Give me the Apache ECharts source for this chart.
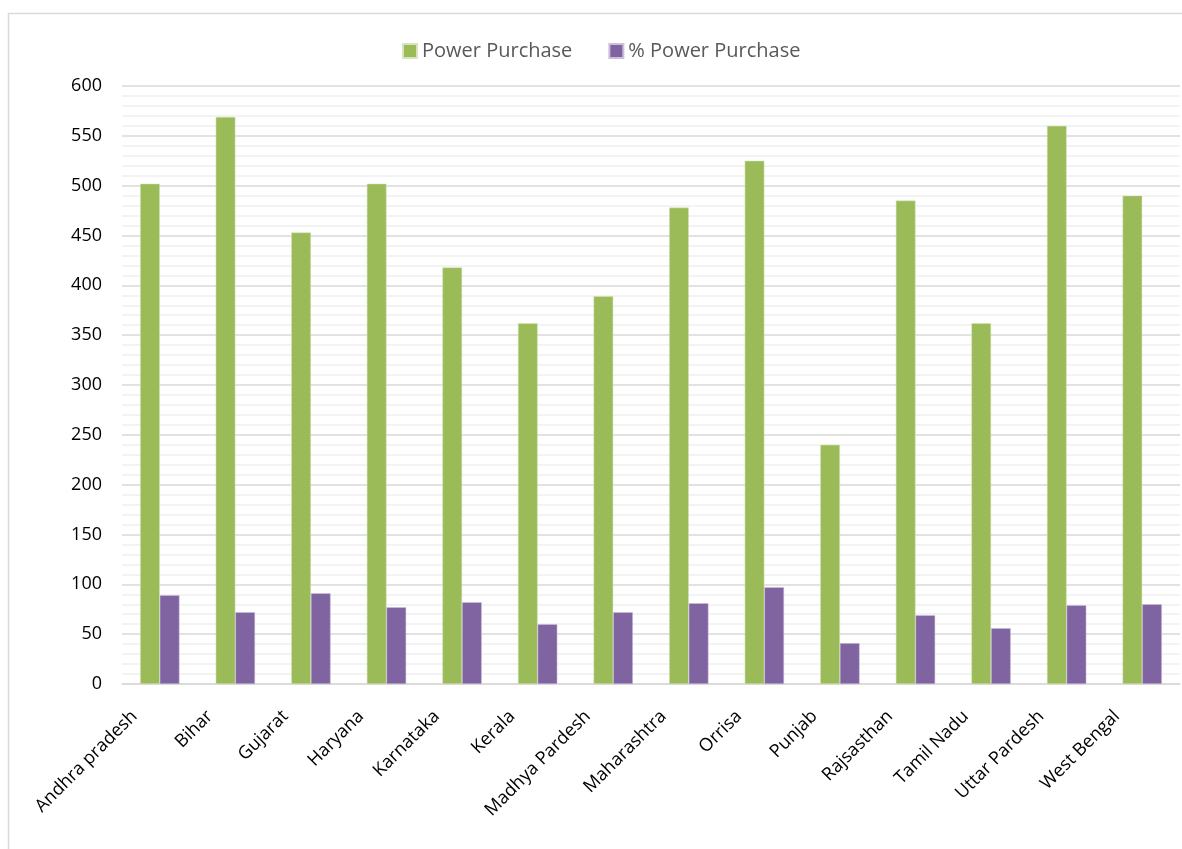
<!DOCTYPE html>
<html>
<head>
<meta charset="utf-8">
<script src="https://cdn.jsdelivr.net/npm/echarts@6/dist/echarts.min.js"></script>
<style>
  html, body { margin: 0; padding: 0; background: #fff; }
  #chart { width: 1182px; height: 849px; }
</style>
</head>
<body>
<div id="chart"></div>
<script>
// States along the x axis
const states = [
  'Andhra pradesh', 'Bihar', 'Gujarat', 'Haryana', 'Karnataka', 'Kerala',
  'Madhya Pardesh', 'Maharashtra', 'Orrisa', 'Punjab', 'Rajsasthan',
  'Tamil Nadu', 'Uttar Pardesh', 'West Bengal'
];

// Power purchase per state
const powerPurchase = [502, 569, 453, 502, 418, 362, 389, 478, 525, 240, 485, 362, 560, 490];

// Power purchase as a percentage
const pctPowerPurchase = [89, 72, 91, 77, 82, 60, 72, 81, 97, 41, 69, 56, 79, 80];

// Value axis range
const yMin = 0;
const yMax = 600;
const yStep = 50;

const font = '"Open Sans", "Noto Sans", sans-serif';

const chart = echarts.init(document.getElementById('chart'), null, { renderer: 'canvas' });

chart.setOption({
  backgroundColor: '#ffffff',
  animation: false,
  graphic: [{
    type: 'rect',
    left: 6,
    top: 11,
    shape: { width: 1200, height: 900 },
    style: { fill: 'none', stroke: '#d9d9d9', lineWidth: 1.5 },
    silent: true,
    z: -1
  }],
  legend: {
    top: 36,
    left: 397,
    itemWidth: 14,
    itemHeight: 14,
    itemGap: 36,
    icon: 'rect',
    textStyle: { fontFamily: font, fontSize: 20, color: '#595959' },
    data: ['Power Purchase', '% Power Purchase']
  },
  grid: {
    left: 122,
    right: 2,
    top: 86,
    bottom: 165,
    containLabel: false
  },
  xAxis: {
    type: 'category',
    data: states,
    axisLine: { show: true, lineStyle: { color: '#d9d9d9', width: 1.5 } },
    axisTick: { show: false },
    axisLabel: {
      rotate: 45,
      interval: 0,
      margin: 4,
      padding: [0, 36, 0, 0],
      fontFamily: font,
      fontSize: 18,
      color: '#000000'
    }
  },
  yAxis: {
    type: 'value',
    min: yMin,
    max: yMax,
    interval: yStep,
    axisLine: { show: false },
    axisTick: { show: false },
    axisLabel: {
      margin: 20,
      fontFamily: font,
      fontSize: 18,
      color: '#000000'
    },
    splitLine: { show: true, lineStyle: { color: '#d9d9d9', width: 1.5 } },
    minorTick: { show: false, splitNumber: 5 },
    minorSplitLine: { show: true, lineStyle: { color: '#f0f0f0', width: 1.5 } }
  },
  series: [
    {
      name: 'Power Purchase',
      type: 'bar',
      data: powerPurchase,
      barGap: '0%',
      barCategoryGap: '48%',
      itemStyle: { color: '#9bbb59', borderColor: '#d7e4bd', borderWidth: 0.5 }
    },
    {
      name: '% Power Purchase',
      type: 'bar',
      data: pctPowerPurchase,
      itemStyle: { color: '#8064a2', borderColor: '#ccc1da', borderWidth: 0.5 }
    }
  ]
});
</script>
</body>
</html>
